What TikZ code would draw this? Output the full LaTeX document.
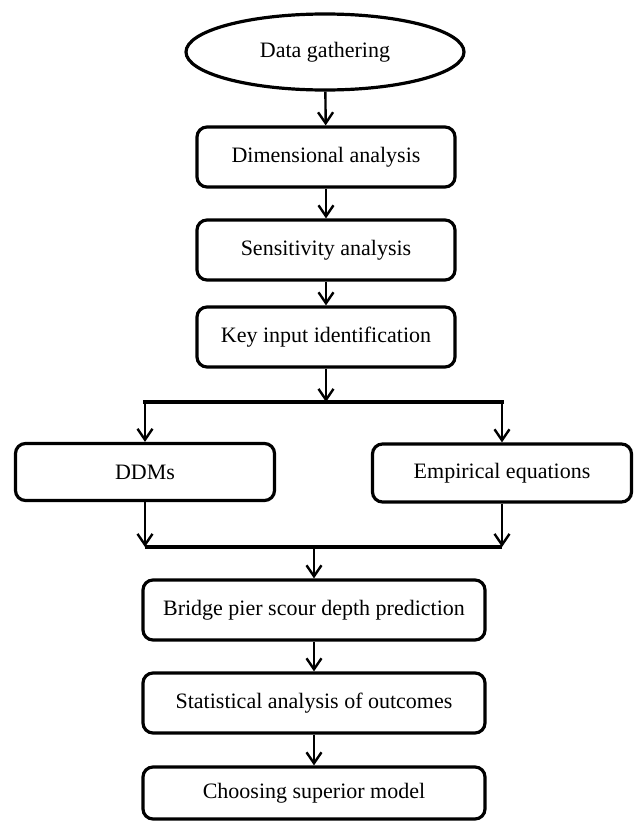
\documentclass[tikz,border=0pt]{standalone}
\usepackage{fontspec}
\setmainfont{Liberation Serif}
\usetikzlibrary{arrows.meta,shapes.geometric,calc}
\tikzset{
  stepbox/.style={draw, line width=3.2pt, rounded corners=10pt, rectangle, minimum height=60pt, inner sep=0pt, font=\fontsize{22}{26}\selectfont},
  startnode/.style={draw, line width=3.2pt, ellipse, minimum width=278pt, minimum height=76pt, inner sep=0pt, font=\fontsize{22}{26}\selectfont},
  conn/.style={line width=2.4pt, -{Straight Barb[length=11pt,width=15pt,line width=2.4pt]}},
  busline/.style={line width=3.2pt},
}
\begin{document}
\begin{tikzpicture}[x=1pt,y=-1pt]
\path[fill=white, use as bounding box] (0,0) rectangle (636,822);
\node[startnode] (data) at (325,52) {Data gathering};
\node[stepbox, minimum width=258pt] (dim) at (326,157) {Dimensional analysis};
\node[stepbox, minimum width=258pt] (sens) at (326,250) {Sensitivity analysis};
\node[stepbox, minimum width=258pt] (key) at (326,337) {Key input identification};
\node[stepbox, minimum width=259pt, minimum height=57pt] (ddms) at (145,472) {DDMs};
\node[stepbox, minimum width=259pt, minimum height=58pt] (emp) at (502,473) {Empirical equations};
\node[stepbox, minimum width=342pt] (bridge) at (314,610) {Bridge pier scour depth prediction};
\node[stepbox, minimum width=342pt] (stat) at (314,703) {Statistical analysis of outcomes};
\node[stepbox, minimum width=342pt, minimum height=52pt] (choose) at (314,793) {Choosing superior model};
\coordinate (splitc) at (326,402);
\coordinate (splitl) at (145,402);
\coordinate (splitr) at (502,402);
\coordinate (joinl) at (145,547);
\coordinate (joinr) at (502,547);
\coordinate (joinc) at (314,547);
\draw[conn] (data) -- (dim);
\draw[conn] (dim) -- (sens);
\draw[conn] (sens) -- (key);
\draw[conn] (key) -- (splitc);
\draw[busline, line cap=rect] (splitl) -- (splitr);
\draw[conn] (splitl) -- (ddms);
\draw[conn] (splitr) -- (emp);
\draw[conn] (ddms) -- (joinl);
\draw[conn] (emp) -- (joinr);
\draw[busline, line width=3.8pt] (joinl) -- (joinr);
\draw[conn] (joinc) -- (bridge);
\draw[conn] (bridge) -- (stat);
\draw[conn] (stat) -- (choose);
\end{tikzpicture}
\end{document}
